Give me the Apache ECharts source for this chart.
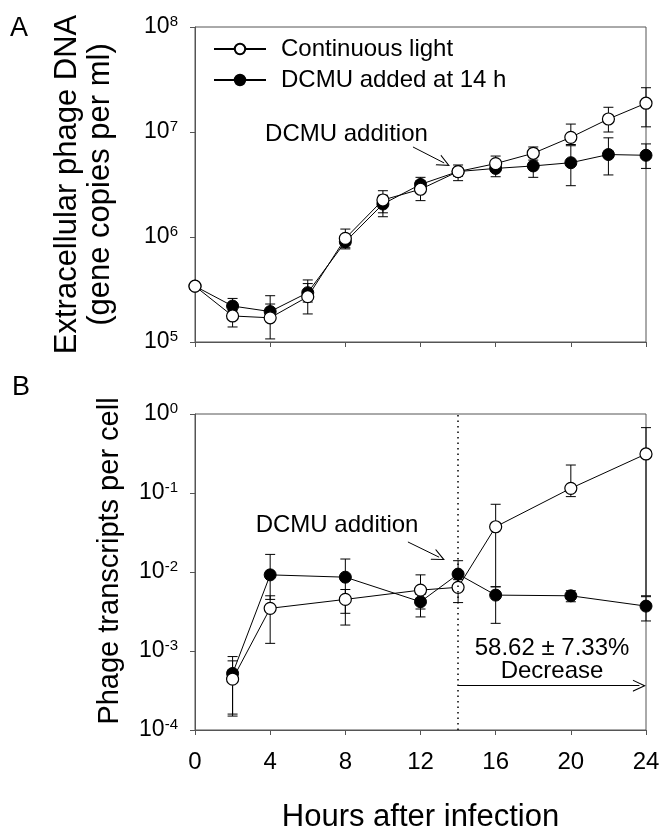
<!DOCTYPE html>
<html>
<head>
<meta charset="utf-8">
<script src="https://cdn.jsdelivr.net/npm/echarts@6/dist/echarts.min.js"></script>
<style>
html,body{margin:0;padding:0;background:#fff;}
#chart{width:661px;height:827px;}
</style>
</head>
<body>
<div id="chart"></div>
<script>
// ---- Panel A data (extracellular phage DNA, gene copies per ml)
const hoursA = [0, 2, 4, 6, 8, 10, 12, 14, 16, 18, 20, 22, 24];
const lightA   = [3.4e5, 1.77e5, 1.7e5, 2.7e5, 9.7e5, 2.25e6, 2.85e6, 4.2e6, 5.0e6, 6.27e6, 8.9e6, 1.33e7, 1.88e7];
const lightALo = [3.2e5, 1.39e5, 1.07e5, 1.85e5, 7.7e5, 1.56e6, 2.22e6, 3.44e6, 4.3e6, 5.4e6, 7.6e6, 1.0e7, 1.12e7];
const lightAHi = [3.6e5, 2.0e5, 2.76e5, 3.9e5, 1.19e6, 2.76e6, 3.4e6, 4.85e6, 5.9e6, 7.2e6, 1.19e7, 1.72e7, 2.64e7];
const darkA    = [3.4e5, 2.2e5, 1.95e5, 2.95e5, 9.0e5, 2.06e6, 3.17e6, 4.2e6, 4.5e6, 4.75e6, 5.1e6, 6.1e6, 6.0e6];
const darkALo  = [3.2e5, 1.9e5, 1.6e5, 2.4e5, 7.9e5, 1.7e6, 2.7e6, 3.8e6, 3.75e6, 3.7e6, 3.08e6, 3.9e6, 4.5e6];
const darkAHi  = [3.6e5, 2.6e5, 2.3e5, 3.6e5, 1.05e6, 2.5e6, 3.7e6, 4.6e6, 5.3e6, 5.8e6, 7.4e6, 8.8e6, 7.7e6];

// ---- Panel B data (phage transcripts per cell)
const hoursB = [2, 4, 8, 12, 14, 16, 20, 24];
const lightB   = [4.4e-4, 3.47e-3, 4.5e-3, 5.9e-3, 6.4e-3, 0.0374, 0.1146, 0.312];
const lightBLo = [1.59e-4, 1.25e-3, 2.13e-3, 3.4e-3, 4.1e-3, 6.5e-3, 0.09, 5.0e-3];
const lightBHi = [7.5e-4, 5.0e-3, 6.0e-3, 9.2e-3, 8.0e-3, 0.072, 0.226, 0.672];
const darkB    = [5.2e-4, 9.2e-3, 8.6e-3, 4.2e-3, 9.4e-3, 5.1e-3, 5.0e-3, 3.7e-3];
const darkBLo  = [1.5e-4, 4.5e-3, 3.0e-3, 2.7e-3, 7.0e-3, 2.24e-3, 4.2e-3, 2.4e-3];
const darkBHi  = [8.5e-4, 0.0167, 0.0146, 5.2e-3, 0.0139, 6.5e-3, 5.8e-3, 4.87e-3];

// ---- Labels / ticks
const xTicks = [0, 4, 8, 12, 16, 20, 24];
const seriesNames = ['Continuous light', 'DCMU added at 14 h'];
const yNameA = 'Extracellular phage DNA\n(gene copies per ml)';
const yNameB = 'Phage transcripts per cell';
const xName = 'Hours after infection';
const annotationDCMU = 'DCMU addition';
const annotationDecrease = '58.62 ± 7.33%\nDecrease';
const dcmuHour = 14;

const FONT = '"Liberation Sans", Arial, sans-serif';
const AXIS_COLOR = '#555';
const chevron = 'path://M0,13 L6,0 L12,13 L10.8,13 L6,2.6 L1.2,13 Z';

const chart = echarts.init(document.getElementById('chart'), null, {renderer: 'canvas'});

function zip(xs, ys) { return xs.map((x, i) => [x, ys[i]]); }
function zip3(xs, lo, hi) { return xs.map((x, i) => [x, lo[i], hi[i]]); }

function errRender(params, api) {
  const x = api.value(0);
  const lo = api.coord([x, api.value(1)]);
  const hi = api.coord([x, api.value(2)]);
  const w = 5;
  const st = {stroke: '#000', lineWidth: 1};
  return {
    type: 'group',
    children: [
      {type: 'line', shape: {x1: lo[0], y1: lo[1], x2: hi[0], y2: hi[1]}, style: st},
      {type: 'line', shape: {x1: lo[0] - w, y1: lo[1], x2: lo[0] + w, y2: lo[1]}, style: st},
      {type: 'line', shape: {x1: hi[0] - w, y1: hi[1], x2: hi[0] + w, y2: hi[1]}, style: st}
    ]
  };
}

function supLabel(v) {
  const e = Math.round(Math.log10(v));
  return '{b|10}{s|' + (e < 0 ? '-' + (-e) : e) + '}';
}
const richTicks = {
  b: {fontSize: 23, fontFamily: FONT, color: '#000', lineHeight: 26},
  s: {fontSize: 15, fontFamily: FONT, color: '#000', verticalAlign: 'top', lineHeight: 16}
};

function xAxisCfg(gridIndex, showLabels) {
  return {
    type: 'value', gridIndex: gridIndex, min: 0, max: 24, interval: 4,
    axisLine: {show: true, lineStyle: {color: AXIS_COLOR, width: 1}},
    axisTick: {show: true, length: 5, lineStyle: {color: AXIS_COLOR}},
    splitLine: {show: false},
    axisLabel: {show: showLabels, fontSize: 24, fontFamily: FONT, color: '#000', margin: 20},
    name: showLabels ? xName : '',
    nameLocation: 'middle', nameGap: 72,
    nameTextStyle: {fontSize: 31, fontFamily: FONT, color: '#000'}
  };
}

function yAxisCfg(gridIndex, min, max, name, nameSize, nameGap, padding) {
  return {
    type: 'log', logBase: 10, gridIndex: gridIndex, min: min, max: max, interval: 1,
    axisLine: {show: true, lineStyle: {color: AXIS_COLOR, width: 1}},
    axisTick: {show: true, length: 5, lineStyle: {color: AXIS_COLOR}},
    minorTick: {show: false},
    splitLine: {show: false},
    axisLabel: {formatter: supLabel, rich: richTicks, margin: 17},
    name: name, nameLocation: 'middle', nameGap: nameGap, nameRotate: 90,
    nameTextStyle: {fontSize: nameSize, fontFamily: FONT, color: '#000', lineHeight: nameSize + 2, padding: padding}
  };
}

const lightStyle = {color: '#fff', borderColor: '#000', borderWidth: 1.2};
const darkStyle = {color: '#000', borderColor: '#000', borderWidth: 1};
const lineSt = {color: '#000', width: 1};

const option = {
  animation: false,
  backgroundColor: '#fff',
  textStyle: {fontFamily: FONT},
  grid: [
    {left: 195, top: 27, width: 451, height: 315, show: true, borderColor: AXIS_COLOR, borderWidth: 1, outerBoundsMode: 'none', containLabel: false},
    {left: 195, top: 414, width: 451, height: 316, show: true, borderColor: AXIS_COLOR, borderWidth: 1, outerBoundsMode: 'none', containLabel: false}
  ],
  legend: {
    data: seriesNames,
    orient: 'vertical', left: 208, top: 31,
    itemWidth: 52, itemHeight: 13, itemGap: 5,
    textStyle: {fontSize: 24, fontFamily: FONT, color: '#000', padding: [0, 0, 0, 10], lineHeight: 26},
    selectedMode: false
  },
  xAxis: [xAxisCfg(0, false), xAxisCfg(1, true)],
  yAxis: [
    yAxisCfg(0, 1e5, 1e8, yNameA, 31, 78, 0),
    yAxisCfg(1, 1e-4, 1, yNameB, 29, 70, [0, 0, 0, 22])
  ],
  graphic: [
    {type: 'text', left: 10, top: 15, style: {text: 'A', fontSize: 27, fontFamily: FONT, fill: '#000'}},
    {type: 'text', left: 12, top: 374, style: {text: 'B', fontSize: 27, fontFamily: FONT, fill: '#000'}}
  ],
  series: [
    // error bars (drawn beneath markers)
    {type: 'custom', xAxisIndex: 0, yAxisIndex: 0, renderItem: errRender, data: zip3(hoursA, lightALo, lightAHi), encode: {x: 0, y: [1, 2]}, z: 1, silent: true},
    {type: 'custom', xAxisIndex: 0, yAxisIndex: 0, renderItem: errRender, data: zip3(hoursA, darkALo, darkAHi), encode: {x: 0, y: [1, 2]}, z: 1, silent: true},
    {type: 'custom', xAxisIndex: 1, yAxisIndex: 1, renderItem: errRender, data: zip3(hoursB, lightBLo, lightBHi), encode: {x: 0, y: [1, 2]}, z: 1, silent: true},
    {type: 'custom', xAxisIndex: 1, yAxisIndex: 1, renderItem: errRender, data: zip3(hoursB, darkBLo, darkBHi), encode: {x: 0, y: [1, 2]}, z: 1, silent: true},
    // panel A
    {
      name: seriesNames[1], type: 'line', xAxisIndex: 0, yAxisIndex: 0,
      data: zip(hoursA, darkA), symbol: 'circle', symbolSize: 12, showSymbol: true,
      itemStyle: darkStyle, lineStyle: lineSt, z: 3
    },
    {
      name: seriesNames[0], type: 'line', xAxisIndex: 0, yAxisIndex: 0,
      data: zip(hoursA, lightA), symbol: 'circle', symbolSize: 12, showSymbol: true,
      itemStyle: lightStyle, lineStyle: lineSt, z: 4,
      markLine: {
        silent: true, animation: false,
        symbol: ['none', chevron], symbolSize: [12, 13],
        lineStyle: {color: '#000', width: 1, type: 'solid'},
        label: {show: false},
        data: [[{coord: [11.6, 7.2e6]}, {coord: [13.26, 5.07e6]}]]
      },
      markPoint: {
        silent: true, symbol: 'circle', symbolSize: 1, itemStyle: {color: 'rgba(0,0,0,0)'},
        label: {show: true, position: 'inside', formatter: '{b}', fontSize: 24, fontFamily: FONT, color: '#000'},
        data: [{name: annotationDCMU, coord: [8.06, 9.57e6]}]
      }
    },
    // panel B
    {
      name: seriesNames[1], type: 'line', xAxisIndex: 1, yAxisIndex: 1,
      data: zip(hoursB, darkB), symbol: 'circle', symbolSize: 12, showSymbol: true,
      itemStyle: darkStyle, lineStyle: lineSt, z: 3,
      markLine: {
        silent: true, animation: false,
        symbol: ['none', chevron], symbolSize: [12, 13],
        lineStyle: {color: '#000', width: 1, type: 'solid'},
        label: {show: false},
        data: [
          [{coord: [11.33, 0.024]}, {coord: [12.99, 0.0154]}],
          [{coord: [dcmuHour, 3.64e-4]}, {coord: [23.65, 3.64e-4]}]
        ]
      },
      markPoint: {
        silent: true, symbol: 'circle', symbolSize: 1, itemStyle: {color: 'rgba(0,0,0,0)'},
        label: {show: true, position: 'inside', formatter: '{b}', fontSize: 24, fontFamily: FONT, color: '#000', lineHeight: 23, align: 'center'},
        data: [
          {name: annotationDCMU, coord: [7.56, 0.0394]},
          {name: annotationDecrease, coord: [19.0, 7.7e-4]}
        ]
      }
    },
    {
      name: seriesNames[0], type: 'line', xAxisIndex: 1, yAxisIndex: 1,
      data: zip(hoursB, lightB), symbol: 'circle', symbolSize: 12, showSymbol: true,
      itemStyle: lightStyle, lineStyle: lineSt, z: 4,
      markLine: {
        silent: true, animation: false, symbol: ['none', 'none'],
        lineStyle: {color: '#000', width: 1.5, type: [1.5, 4]},
        label: {show: false},
        data: [{xAxis: dcmuHour}]
      }
    }
  ]
};

chart.setOption(option);
</script>
</body>
</html>
